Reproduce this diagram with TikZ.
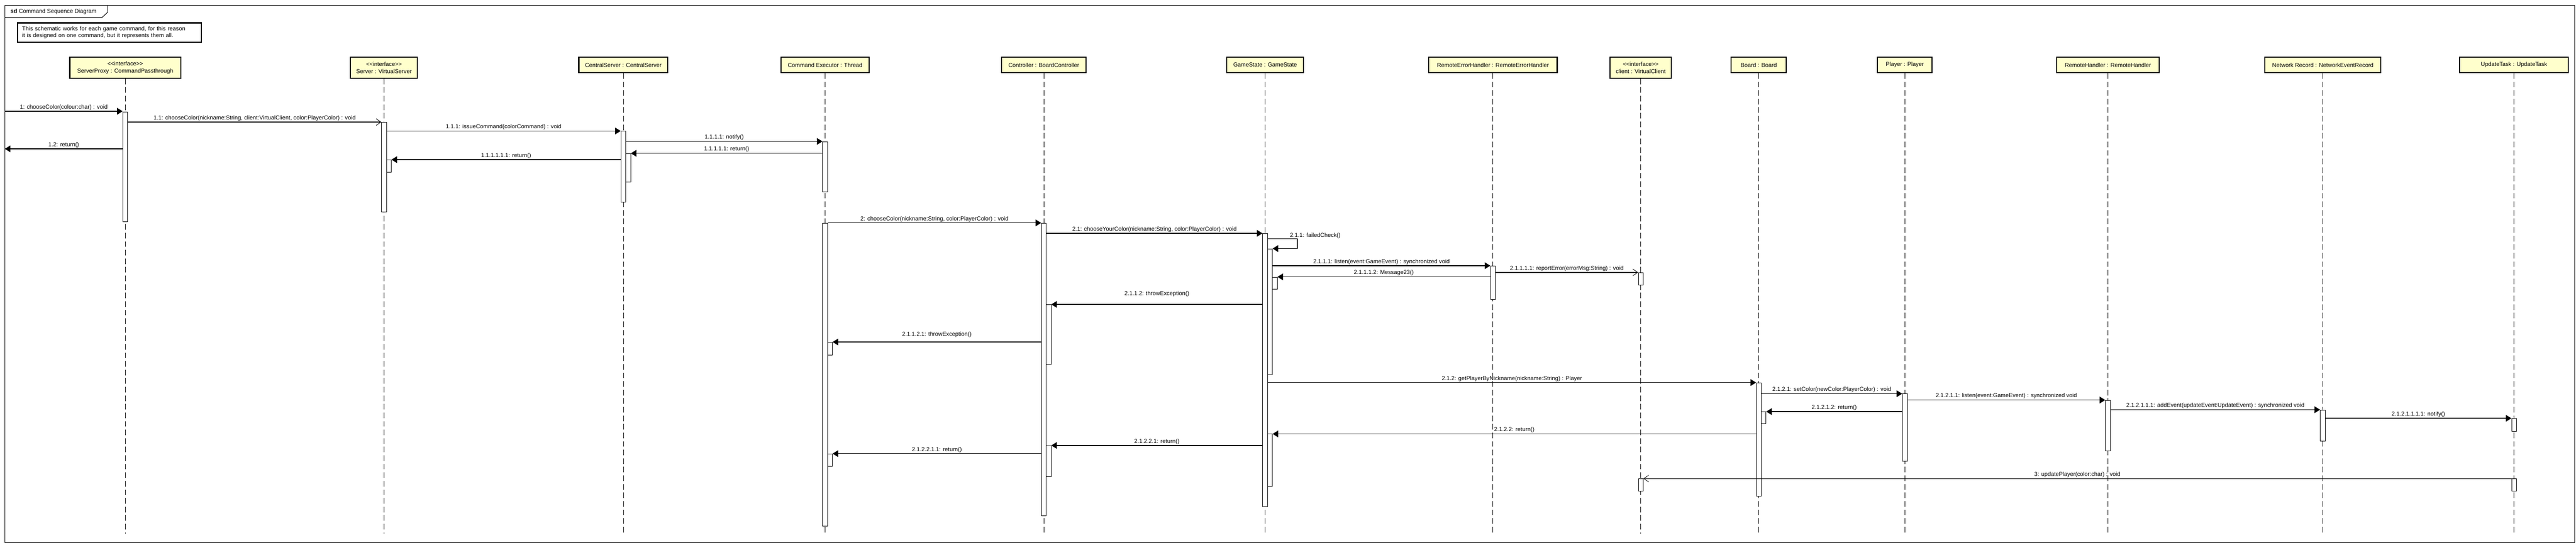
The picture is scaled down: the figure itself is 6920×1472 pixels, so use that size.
\documentclass[tikz,border=0pt]{standalone}
\usepackage{fontspec}
\setmainfont{Liberation Sans}
\usetikzlibrary{arrows.meta,calc}
\definecolor{hdrfill}{RGB}{255,255,204}
\newcommand\actbar[4]{\node[actbar, minimum height={#4-#3}] (#1) at (#2,#3) {};}
\newcommand\hdrbox[5]{\node[hdrbox, minimum width=#3, minimum height=#4] (#1) at (#2,{154+#4/2}) {#5};}
\begin{document}
\begin{tikzpicture}[x=1pt,y=-1pt,
  every node/.style={font=\fontsize{15.5}{19}\selectfont, inner sep=0pt},
  hdrbox/.style={draw, line width=3pt, fill=hdrfill, align=center},
  actbar/.style={draw, line width=1.2pt, fill=white, minimum width=13, anchor=north},
  life/.style={line width=1pt, dash pattern=on 15pt off 8pt},
  call/.style={line width=1.8pt, -{Triangle[length=15pt,width=18pt]}},
  async/.style={line width=1.8pt, -{Straight Barb[length=13pt,width=18pt,line width=1.2pt]}},
  lbl/.style={midway, above=2.5pt}
]
\useasboundingbox (0,0) rectangle (6920,1472);
\fill[white] (0,0) rectangle (6920,1472);

% frame
\draw[line width=1.5pt] (13,14) rectangle (6917,1458);
\draw[line width=1.5pt] (13,47) -- (274,47) -- (289,33) -- (289,14);
\node[anchor=west] (title) at (28,31) {\textbf{sd} Command Sequence Diagram};

% note
\node[draw, line width=3pt, anchor=north west, minimum height=52, text width=470, inner xsep=12, align=left] (note) at (46,60)
  {This schematic works for each game command, for this reason\\it is designed on one command, but it represents them all.};

\coordinate (gate) at (13,0);
\coordinate (bottom) at (0,1434);

% headers
\hdrbox{sp}{336.5}{298}{56}{<{}<interface>{}>\\ServerProxy : CommandPassthrough}
\hdrbox{sv}{1031.5}{180}{56}{<{}<interface>{}>\\Server : VirtualServer}
\hdrbox{cs}{1674.5}{239}{41}{CentralServer : CentralServer}
\hdrbox{ce}{2216.5}{237}{41}{Command Executor : Thread}
\hdrbox{ct}{2804}{226}{41}{Controller : BoardController}
\hdrbox{gs}{3398.5}{206}{41}{GameState : GameState}
\hdrbox{reh}{4010.5}{345}{41}{RemoteErrorHandler : RemoteErrorHandler}
\hdrbox{cl}{4407.5}{165}{56}{<{}<interface>{}>\\client : VirtualClient}
\hdrbox{bd}{4724.5}{148}{41}{Board : Board}
\hdrbox{pl}{5117}{147}{41}{Player : Player}
\hdrbox{rh}{5662.5}{275}{41}{RemoteHandler : RemoteHandler}
\hdrbox{nr}{6240}{311}{41}{Network Record : NetworkEventRecord}
\hdrbox{ut}{6753.5}{292}{41}{UpdateTask : UpdateTask}

% lifelines
\foreach \h in {sp,sv,cs,ce,ct,gs,reh,cl,bd,pl,rh,nr,ut}
  \draw[life] (\h.south) -- (\h.south |- bottom);

% activation bars
\actbar{sp1}{336.5}{300}{595}
\actbar{sv1}{1031.5}{328}{569}
\actbar{sv2}{1044.5}{429}{462}
\actbar{cs1}{1674.5}{352}{542}
\actbar{cs2}{1687.5}{412}{489}
\actbar{ce1}{2216.5}{380}{515}
\actbar{ce2}{2216.5}{599}{1413}
\actbar{ce3}{2229.5}{919}{953}
\actbar{ce4}{2229.5}{1219}{1253}
\actbar{ct1}{2804}{599}{1386}
\actbar{ct2}{2817}{818}{978}
\actbar{ct3}{2817}{1197}{1280}
\actbar{gs1}{3398.5}{627}{1360}
\actbar{gs2}{3411.5}{668}{1006}
\actbar{gs3}{3424.5}{744}{777}
\actbar{gs4}{3411.5}{1166}{1306}
\actbar{reh1}{4010.5}{714}{804}
\actbar{cl1}{4407.5}{732}{766}
\actbar{cl2}{4407.5}{1286}{1319}
\actbar{bd1}{4724.5}{1028}{1333}
\actbar{bd2}{4737.5}{1106}{1138}
\actbar{pl1}{5117}{1058}{1238}
\actbar{rh1}{5662.5}{1075}{1211}
\actbar{nr1}{6239.5}{1101}{1184}
\actbar{ut1}{6753.5}{1124}{1158}
\actbar{ut2}{6753.5}{1286}{1319}

% messages
\draw[call] (gate |- 0,299) -- (sp1.west |- 0,299) node[lbl] {1: chooseColor(colour:char) : void};
\draw[async] (sp1.east |- 0,328) -- (sv1.west |- 0,328) node[lbl] {1.1: chooseColor(nickname:String, client:VirtualClient, color:PlayerColor) : void};
\draw[call] (sv1.east |- 0,352) -- (cs1.west |- 0,352) node[lbl] {1.1.1: issueCommand(colorCommand) : void};
\draw[call] (cs1.east |- 0,380) -- (ce1.west |- 0,380) node[lbl] {1.1.1.1: notify()};
\draw[call] (sp1.west |- 0,400) -- (gate |- 0,400) node[lbl] {1.2: return()};
\draw[call] (ce1.west |- 0,412) -- (cs2.east |- 0,412) node[lbl] {1.1.1.1.1: return()};
\draw[call] (cs1.west |- 0,429) -- (sv2.east |- 0,429) node[lbl] {1.1.1.1.1.1: return()};

\draw[call] (ce2.east |- 0,599) -- (ct1.west |- 0,599) node[lbl] {2: chooseColor(nickname:String, color:PlayerColor) : void};
\draw[call] (ct1.east |- 0,627) -- (gs1.west |- 0,627) node[lbl] {2.1: chooseYourColor(nickname:String, color:PlayerColor) : void};
\coordinate (loopa) at (3485,641);
\coordinate (loopb) at (3485,668);
\draw[call] (gs1.east |- loopa) -- (loopa) -- (loopb) -- (gs2.east |- loopb);
\node[anchor=west] (fc) at (3465,633) {2.1.1: failedCheck()};
\draw[call] (gs2.east |- 0,714) -- (reh1.west |- 0,714) node[lbl] {2.1.1.1: listen(event:GameEvent) : synchronized void};
\draw[async] (reh1.east |- 0,732) -- (cl1.west |- 0,732) node[lbl] {2.1.1.1.1: reportError(errorMsg:String) : void};
\draw[call] (reh1.west |- 0,744) -- (gs3.east |- 0,744) node[lbl] {2.1.1.1.2: Message23()};
\draw[call] (gs1.west |- 0,818) -- (ct2.east |- 0,818) node[lbl, above=17pt] {2.1.1.2: throwException()};
\draw[call] (ct1.west |- 0,919) -- (ce3.east |- 0,919) node[lbl, above=9pt] {2.1.1.2.1: throwException()};
\draw[call] (gs1.east |- 0,1028) -- (bd1.west |- 0,1028) node[lbl] {2.1.2: getPlayerByNickname(nickname:String) : Player};
\draw[call] (bd1.east |- 0,1058) -- (pl1.west |- 0,1058) node[lbl] {2.1.2.1: setColor(newColor:PlayerColor) : void};
\draw[call] (pl1.east |- 0,1075) -- (rh1.west |- 0,1075) node[lbl] {2.1.2.1.1: listen(event:GameEvent) : synchronized void};
\draw[call] (rh1.east |- 0,1101) -- (nr1.west |- 0,1101) node[lbl] {2.1.2.1.1.1: addEvent(updateEvent:UpdateEvent) : synchronized void};
\draw[call] (nr1.east |- 0,1124) -- (ut1.west |- 0,1124) node[lbl] {2.1.2.1.1.1.1: notify()};
\draw[call] (pl1.west |- 0,1106) -- (bd2.east |- 0,1106) node[lbl] {2.1.2.1.2: return()};
\draw[call] (bd1.west |- 0,1166) -- (gs4.east |- 0,1166) node[lbl] {2.1.2.2: return()};
\draw[call] (gs1.west |- 0,1197) -- (ct3.east |- 0,1197) node[lbl] {2.1.2.2.1: return()};
\draw[call] (ct1.west |- 0,1219) -- (ce4.east |- 0,1219) node[lbl] {2.1.2.2.1.1: return()};
\draw[async] (ut2.west |- 0,1286) -- (cl2.east |- 0,1286) node[lbl] {3: updatePlayer(color:char) : void};
\end{tikzpicture}
\end{document}
